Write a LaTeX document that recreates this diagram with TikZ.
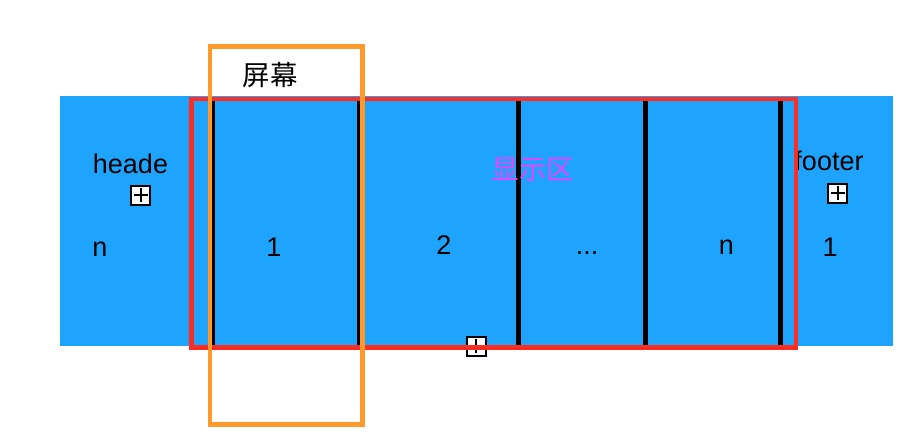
\documentclass[tikz,border=0pt]{standalone}
\usepackage{fontspec}
\setmainfont{Liberation Sans}
\newfontfamily\cjk{Noto Sans CJK SC}
\usepackage{tikz}
\usetikzlibrary{calc}
\definecolor{listblue}{RGB}{30,164,252}
\definecolor{viewred}{RGB}{255,45,33}
\definecolor{screenorange}{RGB}{255,153,43}
\definecolor{areapink}{RGB}{228,72,250}
\tikzset{
	celltext/.style={font=\fontsize{27}{32}\selectfont,anchor=base,inner sep=0pt},
	cjktext/.style={font=\cjk\fontsize{27.5}{32}\selectfont,inner sep=0pt},
	plusbox/.style={draw,line width=2pt,fill=white,minimum size=19pt,inner sep=0pt,
		path picture={\draw[line width=2pt]
			($(path picture bounding box.center)+(-7,0)$) -- ++(14,0)
			($(path picture bounding box.center)+(0,-7)$) -- ++(0,14);}}
}
\begin{document}
\begin{tikzpicture}[x=1pt,y=-1pt]
			\useasboundingbox (0,0) rectangle (924,432);
			\fill[listblue](60,96) rectangle (893,346);
			\foreach \x in {213,359.5,518.5,645.5,780.5}
				\draw[line width=4.5pt](\x,99) -- (\x,346);
			
			\node[celltext] (heade) at (130.5,173){heade};
			\node[plusbox] (hplus) at (140.5,195){};
			\node[celltext] (hn) at (100,256.5){n};
			\node[celltext] (c1) at (274,256.5){1};
			\node[celltext] (c2) at (444,254){2};
			\node[celltext] (cdots) at (587,254){...};
			\node[celltext] (cn) at (726.5,254){n};
			\node[celltext] (footer) at (829,170){footer};
			\node[plusbox] (fplus) at (837.5,193){};
			\node[celltext] (f1) at (830,256.5){1};
			\node[cjktext,text=areapink] (area) at (533,170){显示区};
			\node[plusbox] (bplus) at (476,346){};
			
			\draw[viewred,line width=4.5pt](191.5,99) rectangle (796,347.5);
			\draw[screenorange,line width=4.5pt](210,46.5) rectangle (362.5,424.5);
			\node[cjktext] (screen) at (270,75){屏幕};
		\end{tikzpicture}
\end{document}
